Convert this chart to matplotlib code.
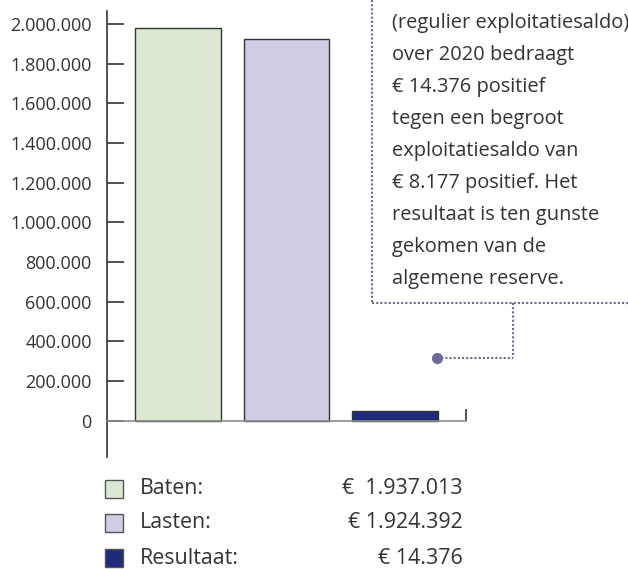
import matplotlib
matplotlib.use("Agg")
import matplotlib.pyplot as plt
from matplotlib.lines import Line2D
from matplotlib.patches import Rectangle

# ---- data ----
categories = ["Baten", "Lasten", "Resultaat"]
bar_values = [1978000, 1926000, 50000]          # heights as drawn
legend_labels = ["Baten:", "Lasten:", "Resultaat:"]
legend_amounts = ["€  1.937.013", "€ 1.924.392", "€ 14.376"]
yticks = [0, 200000, 400000, 600000, 800000, 1000000, 1200000,
          1400000, 1600000, 1800000, 2000000]
ytick_labels = ["0", "200.000", "400.000", "600.000", "800.000", "1.000.000",
                "1.200.000", "1.400.000", "1.600.000", "1.800.000", "2.000.000"]
note_lines = ["(regulier exploitatiesaldo)", "over 2020 bedraagt",
              "€ 14.376 positief", "tegen een begroot",
              "exploitatiesaldo van", "€ 8.177 positief. Het",
              "resultaat is ten gunste", "gekomen van de",
              "algemene reserve."]

colors = ["#dce8d2", "#cfcde3", "#1f2a78"]
text_color = "#333333"
dot_color = "#6b6a98"

plt.rcParams['font.family'] = ['Open Sans', 'DejaVu Sans']

W, H = 628, 569
fig = plt.figure(figsize=(W / 100, H / 100), dpi=100)

def fx(px):
    return px / W

def fy(py):
    return 1 - py / H

ax = fig.add_axes([fx(107), fy(457), fx(466) - fx(107), (457 - 11) / H])
x = range(len(categories))
ax.bar(x, bar_values, width=0.79, color=colors, edgecolor="#333333", linewidth=1.0, zorder=2)
ax.set_xlim(-0.65, 2.65)
ax.set_ylim(-183000, 2065000)

ax.spines['top'].set_visible(False)
ax.spines['right'].set_visible(False)
ax.spines['left'].set_color("#333333")
ax.spines['left'].set_linewidth(1.2)
ax.spines['bottom'].set_position(('data', 0))
ax.spines['bottom'].set_color("#8a8a8a")
ax.spines['bottom'].set_linewidth(1.2)
ax.spines['bottom'].set_zorder(3)

ax.set_yticks(yticks)
ax.set_yticklabels(ytick_labels)
ax.tick_params(axis='y', direction='in', length=12, width=1.2, color="#333333",
               labelsize=13, labelcolor=text_color, pad=11)
ax.set_xticks([2.65])
ax.set_xticklabels([""])
ax.tick_params(axis='x', direction='in', length=9, width=1.2, color="#333333")

# legend
rows_y = [489, 523, 558]
for lab, amt, c, ry in zip(legend_labels, legend_amounts, colors, rows_y):
    fig.patches.append(Rectangle((fx(105), fy(ry + 9)), 18 / W, 18 / H,
                                 transform=fig.transFigure, facecolor=c,
                                 edgecolor="#555555", linewidth=1.0))
    fig.text(fx(140), fy(ry), lab, fontsize=15.4, color=text_color, va='center', ha='left')
    fig.text(fx(463), fy(ry), amt, fontsize=15.4, color=text_color, va='center', ha='right')

# annotation text
for i, line in enumerate(note_lines):
    fig.text(fx(392), fy(23 + 32 * i), line, fontsize=14.4, color=text_color,
             va='center', ha='left')

# dotted callout lines
def dline(xs, ys):
    fig.add_artist(Line2D([fx(v) for v in xs], [fy(v) for v in ys],
                          transform=fig.transFigure, color=dot_color,
                          linewidth=1.5, linestyle=(0, (1, 1))))

dline([372, 372], [0, 303])
dline([372, 628], [303, 303])
dline([513, 513], [303, 358])
dline([437, 513], [358, 358])
fig.add_artist(Line2D([fx(437)], [fy(358)], transform=fig.transFigure,
                      marker='o', markersize=7, color=dot_color, linestyle='none'))

fig.savefig("out.png", dpi=100)
